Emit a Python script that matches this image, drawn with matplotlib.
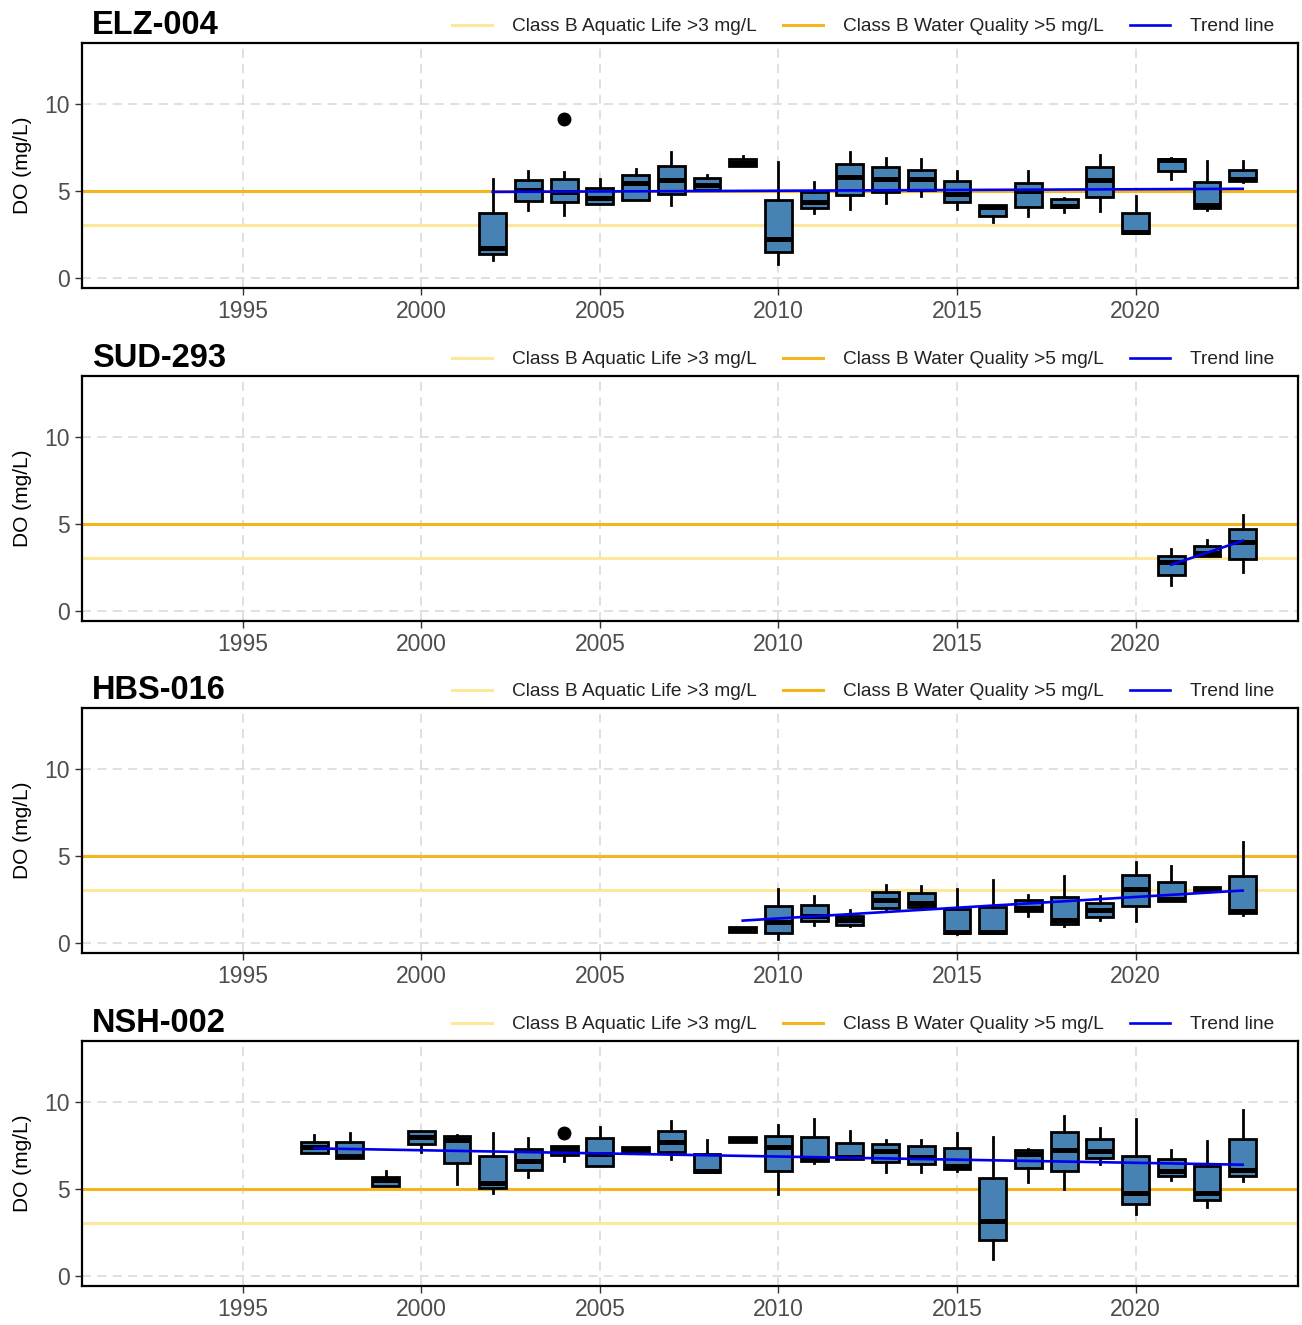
import matplotlib
matplotlib.use("Agg")
import matplotlib.pyplot as plt

plt.rcParams['font.family'] = ['Liberation Sans', 'DejaVu Sans']

# --- data (annual DO box stats, mg/L) ---
elz_years = list(range(2002, 2024))
elz_lo  = [1.03, 3.87, 3.58, 4.23, 4.45, 4.20, 5.06, 6.40, 0.80, 3.72, 3.95, 4.29, 4.67, 3.95, 3.18, 3.56, 3.75, 3.81, 2.57, 5.67, 3.90, 5.50]
elz_q1  = [1.36, 4.39, 4.37, 4.23, 4.48, 4.81, 5.06, 6.40, 1.46, 4.00, 4.77, 4.90, 5.06, 4.33, 3.52, 4.06, 4.06, 4.63, 2.57, 6.15, 4.00, 5.54]
elz_med = [1.71, 5.06, 4.90, 4.58, 5.44, 5.60, 5.34, 6.60, 2.22, 4.33, 5.77, 5.67, 5.67, 4.83, 4.05, 4.98, 4.12, 5.60, 2.62, 6.78, 4.20, 5.67]
elz_q3  = [3.72, 5.63, 5.69, 5.13, 5.90, 6.40, 5.71, 6.82, 4.48, 4.90, 6.55, 6.34, 6.21, 5.54, 4.16, 5.44, 4.52, 6.36, 3.72, 6.82, 5.48, 6.21]
elz_hi  = [5.67, 6.11, 6.05, 5.67, 6.26, 7.22, 5.88, 6.97, 6.63, 5.50, 7.22, 6.88, 6.82, 6.11, 4.20, 6.11, 4.58, 7.07, 4.71, 6.88, 6.72, 6.69]
elz_out = {2004: [9.14]}
elz_trend_x = [2002, 2023]
elz_trend_y = [4.93, 5.11]

sud_years = [2021, 2022, 2023]
sud_lo  = [1.46, 3.16, 2.22]
sud_q1  = [2.07, 3.16, 2.99]
sud_med = [2.80, 3.31, 3.93]
sud_q3  = [3.12, 3.70, 4.69]
sud_hi  = [3.54, 4.04, 5.52]
sud_out = {}
sud_trend_x = [2021, 2023]
sud_trend_y = [2.64, 4.02]

hbs_years = list(range(2009, 2024))
hbs_lo  = [0.63, 0.21, 0.98, 0.95, 1.90, 1.90, 0.50, 0.52, 1.55, 0.95, 1.32, 1.23, 2.38, 2.95, 1.60]
hbs_q1  = [0.63, 0.56, 1.21, 1.02, 1.99, 2.03, 0.52, 0.52, 1.84, 1.07, 1.45, 2.09, 2.38, 2.95, 1.70]
hbs_med = [0.75, 1.17, 1.50, 1.30, 2.43, 2.30, 0.60, 0.60, 1.99, 1.32, 1.85, 3.08, 2.50, 3.10, 1.80]
hbs_q3  = [0.90, 2.09, 2.13, 1.55, 2.91, 2.86, 1.93, 2.03, 2.47, 2.60, 2.28, 3.91, 3.47, 3.18, 3.85]
hbs_hi  = [0.90, 3.08, 2.66, 1.86, 3.30, 3.24, 3.05, 3.62, 2.76, 3.85, 2.70, 4.62, 4.39, 3.18, 5.77]
hbs_out = {}
hbs_trend_x = [2009, 2023]
hbs_trend_y = [1.26, 2.99]

nsh_years = list(range(1997, 2024))
nsh_lo  = [7.05, 6.75, 5.16, 7.09, 5.26, 4.78, 5.70, 6.61, 6.30, 7.13, 6.70, 5.94, 7.67, 4.68, 6.50, 6.71, 5.97, 5.97, 6.00, 0.98, 5.36, 4.97, 6.40, 3.53, 5.49, 3.97, 5.45]
nsh_q1  = [7.05, 6.78, 5.16, 7.57, 6.47, 5.03, 6.09, 6.94, 6.32, 7.13, 7.09, 5.94, 7.67, 5.99, 6.61, 6.71, 6.51, 6.42, 6.13, 2.04, 6.17, 6.03, 6.74, 4.14, 5.74, 4.34, 5.74]
nsh_med = [7.40, 6.90, 5.50, 8.00, 7.80, 5.30, 6.61, 7.30, 7.00, 7.30, 7.70, 6.00, 7.85, 7.38, 6.70, 6.85, 7.19, 6.80, 6.30, 3.14, 7.00, 7.23, 7.19, 4.78, 6.03, 4.78, 6.09]
nsh_q3  = [7.71, 7.67, 5.70, 8.30, 8.05, 6.86, 7.28, 7.47, 7.92, 7.38, 8.34, 6.99, 7.99, 8.05, 7.96, 7.63, 7.57, 7.47, 7.34, 5.61, 7.24, 8.25, 7.86, 6.90, 6.71, 6.28, 7.86]
nsh_hi  = [8.09, 8.19, 5.99, 8.30, 8.10, 8.19, 7.90, 7.47, 8.54, 7.38, 8.92, 7.80, 7.99, 8.67, 8.98, 8.30, 7.82, 7.82, 8.21, 7.96, 7.30, 9.17, 8.48, 8.98, 7.23, 7.76, 9.50]
nsh_out = {2004: [8.19]}
nsh_trend_x = [1997, 2023]
nsh_trend_y = [7.32, 6.38]

site_names = ['ELZ-004', 'SUD-293', 'HBS-016', 'NSH-002']
aquatic_life = 3
water_quality = 5
x_ticks = [1995, 2000, 2005, 2010, 2015, 2020]
y_ticks = [0, 5, 10]

sites = [
    (elz_years, elz_lo, elz_q1, elz_med, elz_q3, elz_hi, elz_out, elz_trend_x, elz_trend_y),
    (sud_years, sud_lo, sud_q1, sud_med, sud_q3, sud_hi, sud_out, sud_trend_x, sud_trend_y),
    (hbs_years, hbs_lo, hbs_q1, hbs_med, hbs_q3, hbs_hi, hbs_out, hbs_trend_x, hbs_trend_y),
    (nsh_years, nsh_lo, nsh_q1, nsh_med, nsh_q3, nsh_hi, nsh_out, nsh_trend_x, nsh_trend_y),
]


def draw_site(ax, name, years, lo, q1, med, q3, hi, outliers, tx, ty):
    ax.axhline(aquatic_life, color='#FCE79A', lw=2.2, zorder=1, label='Class B Aquatic Life >3 mg/L')
    ax.axhline(water_quality, color='#F5B51C', lw=2.2, zorder=1, label='Class B Water Quality >5 mg/L')
    stats = []
    for i, yr in enumerate(years):
        stats.append({'whislo': lo[i], 'q1': q1[i], 'med': med[i], 'q3': q3[i],
                      'whishi': hi[i], 'fliers': outliers.get(yr, [])})
    ax.bxp(stats, positions=years, widths=0.75, patch_artist=True, showcaps=False,
           boxprops=dict(facecolor='#4682B4', edgecolor='black', linewidth=2.0),
           medianprops=dict(color='black', linewidth=3.6),
           whiskerprops=dict(color='black', linewidth=2.0),
           flierprops=dict(marker='o', markerfacecolor='black', markeredgecolor='black', markersize=9),
           manage_ticks=False, zorder=3)
    ax.plot(tx, ty, color='#0000EE', lw=1.9, zorder=5, label='Trend line')

    ax.set_xlim(1990.5, 2024.55)
    ax.set_ylim(-0.6, 13.5)
    ax.set_xticks(x_ticks)
    ax.set_yticks(y_ticks)
    ax.tick_params(axis='both', labelsize=16.5, labelcolor='#4D4D4D', length=5, width=1.0, color='#333333')
    ax.grid(True, color='#DDDDDD', linestyle=(0, (5, 3.5)), linewidth=1.3, zorder=0)
    ax.set_axisbelow(True)
    for sp in ax.spines.values():
        sp.set_linewidth(1.6)
        sp.set_color('black')
    ax.set_ylabel('DO (mg/L)', fontsize=15, labelpad=9)
    ax.text(0.008, 1.037, name, transform=ax.transAxes, fontsize=23.5, fontweight='bold',
            ha='left', va='baseline')
    ax.legend(loc='center right', bbox_to_anchor=(0.98, 1.066), ncol=3, frameon=False,
              fontsize=13.8, handlelength=2.1, handletextpad=1.0, columnspacing=1.4,
              borderaxespad=0, borderpad=0, labelcolor='#222222')


fig = plt.figure(figsize=(13.02, 13.25), dpi=100)
bottoms = [0.7826, 0.5313, 0.2808, 0.0294]
for name, b, s in zip(site_names, bottoms, sites):
    ax = fig.add_axes([0.063, b, 0.934, 0.185])
    draw_site(ax, name, *s)

fig.savefig('out.png', dpi=100, facecolor='white')
